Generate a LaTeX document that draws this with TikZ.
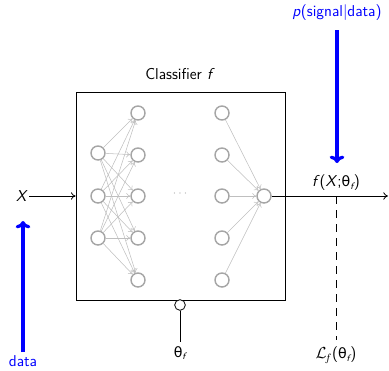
\documentclass[tikz,border=0pt]{standalone}
\usepackage{fontspec}
\setmainfont{Latin Modern Sans}
\newfontfamily\grk{DejaVu Sans}[Scale=0.9]
\usetikzlibrary{arrows.meta}
\newcommand{\thf}{\textrm{\grk θ}}
\begin{document}
\begin{tikzpicture}[x=0.75pt,y=-0.75pt,
  neuron/.style={circle,draw=black!35,line width=1.1pt,minimum size=10.5pt,inner sep=0pt},
  edge/.style={draw=black!25,line width=0.4pt,-{To[length=3pt,width=4.5pt]}},
  conn/.style={draw,line width=0.6pt,-{To[length=3.5pt,width=5.5pt]}},
  bluearr/.style={draw=blue,line width=2.4pt,-{To[length=5.5pt,width=11pt]}},
  lbl/.style={inner sep=1pt,font=\fontsize{11.8}{14}\selectfont}]
\useasboundingbox (0,0) rectangle (389,371);
\node[draw,line width=0.6pt,minimum width=156.75pt,minimum height=156pt,inner sep=0pt] (box) at (180.5,196) {};
\node[lbl] (cls) at (180,74) {Classifier \textit{f}};
% neurons
\foreach \i/\y in {1/153,2/196,3/238} \node[neuron] (a\i) at (98,\y) {};
\foreach \i/\y in {1/113,2/155,3/196,4/238,5/280} {
  \node[neuron] (b\i) at (138,\y) {};
  \node[neuron] (c\i) at (222,\y) {};
}
\node[neuron] (o) at (264,196) {};
\node[text=black!30,font=\small] (dots) at (180,194) {$\cdots$};
\foreach \i in {1,2,3} \foreach \j in {1,...,5} \draw[edge] (a\i) -- (b\j);
\foreach \j in {1,...,5} \draw[edge] (c\j) -- (o);
% input
\node[lbl] (x) at (22,196) {\textit{X}};
\coordinate (boxin) at (box.west |- x);
\draw[conn] (x) -- (boxin);
% output
\coordinate (outend) at (388,196);
\draw[conn] (o) -- (outend);
\coordinate (dtop) at (336,196);
\coordinate (dbot) at (336,340);
\draw[dashed,line width=0.6pt,dash pattern=on 6pt off 4.5pt] (dtop) -- (dbot);
\node[lbl] (fx) at (336,183) {\textit{f}(\textit{X};\thf$_{\textit{\scriptsize f}}$)};
\node[lbl] (loss) at (336,355) {$\mathcal{L}_{\!f}$(\thf$_{\textit{\scriptsize f}}$)};
% parameter
\node[circle,draw,line width=0.6pt,minimum size=8pt,inner sep=0pt,fill=white] (pc) at (180,305) {};
\node[lbl] (th) at (180,353) {\thf$_{\textit{\scriptsize f}}$};
\coordinate (pend) at (180,342);
\draw[line width=0.6pt] (pc) -- (pend);
% blue
\node[lbl,text=blue] (sig) at (337,13) {\textit{p}(signal|data)};
\coordinate (sigend) at (337,163);
\draw[bluearr] (sig.south |- 0,30) -- (sigend);
\node[lbl,text=blue] (data) at (23,361) {data};
\coordinate (dataend) at (23,221);
\draw[bluearr] (23,352) -- (dataend);
\end{tikzpicture}
\end{document}
